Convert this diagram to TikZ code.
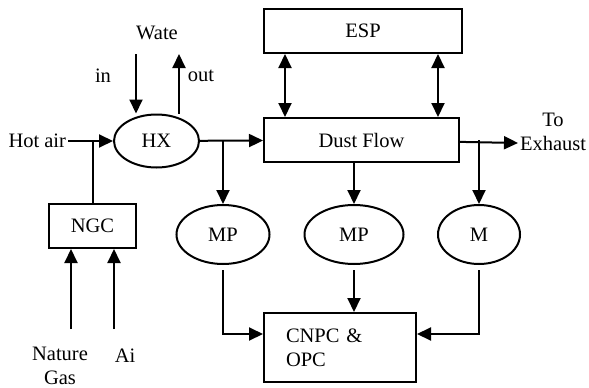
\documentclass[tikz,border=0pt]{standalone}
\usepackage{fontspec}
\setmainfont{Liberation Serif}
\usetikzlibrary{positioning,arrows.meta,shapes.geometric,calc}

\begin{document}
\begin{tikzpicture}[x=1pt, y=-1pt,
  box/.style={rectangle, draw, minimum height=44pt, inner sep=0pt},
  unit/.style={ellipse, draw, inner sep=0pt, minimum height=59pt},
  label/.style={inner sep=1pt},
  ->, >={Triangle[length=14pt,width=13pt]}, line width=2pt,
  font=\fontsize{20.5}{24}\selectfont
]
\useasboundingbox (0,0) rectangle (589,388);

% boxes and units
\node[box, minimum width=198pt] (esp) at (363,31) {ESP};
\node[box, minimum width=195pt] (dust) at (361.5,140) {Dust Flow};
\node[ellipse, draw, inner sep=0pt, minimum width=85pt, minimum height=53pt] (hx) at (156.5,141) {HX};
\node[box, minimum width=87pt] (ngc) at (92.5,226) {NGC};
\node[unit, minimum width=93pt] (mp1) at (223,234.5) {MP};
\node[unit, minimum width=99pt] (mp2) at (354,234.5) {MP};
\node[unit, minimum width=82pt] (m) at (479,234.5) {M};
\node[draw, minimum width=152pt, minimum height=69pt, inner xsep=0pt] (cnpc) at (340,347.5) {};
\node[text width=108pt, align=left, inner sep=0pt] at (cnpc) {CNPC \&\\OPC};

% labels
\node[label, anchor=east] (hot) at (68,141) {Hot air};
\node[label] (wate) at (157,33) {Wate};
\node[label] (win) at (103,76) {in};
\node[label] (wout) at (201,76) {out};
\node[label] (to) at (553,120) {To};
\node[label, anchor=west] (exh) at (518,143) {Exhaust};
\node[label, align=center] (nat) at (60,366) {Nature\\Gas};
\node[label] (air) at (125,356) {Ai};

\coordinate (wi) at (136,54);
\coordinate (wo) at (179,54);
\coordinate (gi) at (71,329);
\coordinate (ai) at (114,329);

% flows
\draw (hot.east) -- (hx);
\draw[-] (ngc.north) -- (ngc.north |- hot.east);
\draw (wi) -- (wi |- hx.north);
\draw ([xshift=22.5pt]hx.north) -- (wo);
\draw (hx) -- (dust);
\draw (mp1 |- hx.east) -- (mp1);
\draw (dust) -- (exh.west);
\draw (m |- dust.east) -- (m);
\draw (mp2 |- dust.south) -- (mp2);
\draw[<->] ([xshift=22pt]esp.south west) -- ([xshift=22pt]dust.north west);
\draw[<->] ([xshift=-25pt]esp.south east) -- ([xshift=-22pt]dust.north east);
\draw (gi) -- (gi |- ngc.south);
\draw (ai) -- (ai |- ngc.south);
\draw[shorten <=5pt] (mp1.south) |- ([yshift=13.5pt]cnpc.west);
\draw[shorten <=5pt] (mp2.south) -- (mp2 |- cnpc.north);
\draw[shorten <=5pt] (m.south) |- ([yshift=13.5pt]cnpc.east);
\end{tikzpicture}
\end{document}
